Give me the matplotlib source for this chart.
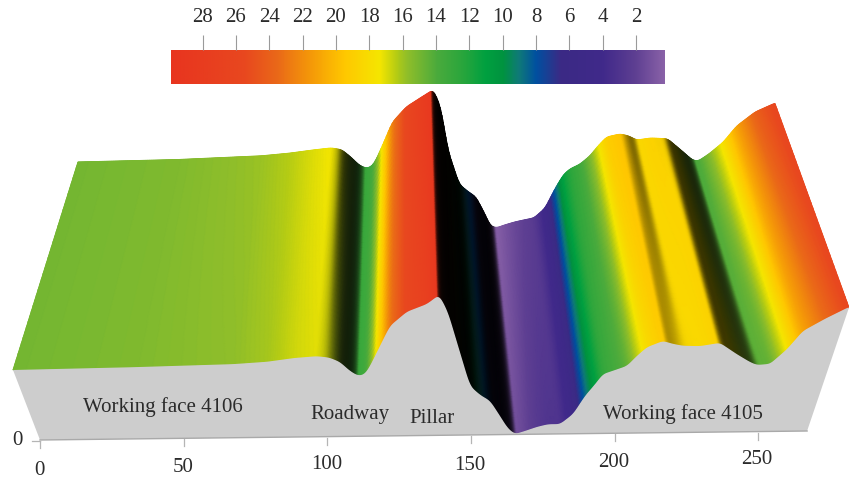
import numpy as np
import matplotlib
matplotlib.use("Agg")
import matplotlib.pyplot as plt
from matplotlib.colors import LinearSegmentedColormap, Normalize

# distance along the section and stress on the near / far edge of the block
distance = [0, 38.3, 70.3, 81.1, 90, 97, 101, 104.4, 107.6, 110.2,
            112.4, 114, 117.2, 120.4, 125.8, 132.2, 136.1, 138.9, 141.8, 146,
            149.2, 152.4, 155.5, 158, 160.3, 163.5, 167.4, 170.9, 174.7, 178.9,
            182.7, 185.9, 188.4, 192.3, 196.1, 199.3, 202.5, 207.6, 210.8, 214,
            219.4, 225.8, 231.2, 235.4, 237.6, 241.8, 247.2, 252.3, 259.4, 267]
stress_front = [15, 15.3, 15.7, 16.1, 16.8, 17.1, 16.8, 15.9, 14.1, 13.1,
                13.4, 15, 19, 23, 25.8, 27.3, 29.1, 25.7, 19.6, 10.8,
                9, 7.8, 4.8, 2.3, 1.1, 1.7, 2.5, 3, 3, 5,
                8.6, 10.9, 12.9, 13.7, 14.5, 16.5, 18.2, 19.4, 18.8, 18.4,
                18.3, 18.9, 16.6, 15, 14.4, 14.6, 17.5, 21.1, 23.5, 25.8]
stress_back = [15, 15.3, 15.9, 16.4, 17, 17.4, 17, 15.5, 13.8, 13.1,
               13.4, 14.6, 18.5, 22.6, 25.8, 28, 29.3, 25.7, 16.5, 9.6,
               8.1, 6.9, 3.7, 0.8, 0.4, 1, 1.6, 2, 2.4, 4.4,
               8.4, 11.3, 12.5, 13.5, 15.2, 17.3, 19.1, 19.7, 19.3, 18.4,
               18.8, 18.6, 16.1, 14.1, 13.9, 15.4, 17.8, 21.1, 24, 25.8]

# colour scale
cbar_stress = [0.3, 2, 4, 6.5, 8, 9, 10, 11, 12.5, 14, 15.7, 16.4, 17.4, 19.5, 21.5, 23.5, 25.5, 30]
cbar_colors = ["#8a62a8", "#5e3f92", "#40298a", "#3b2a85", "#0050a0", "#0f7a78", "#00933f",
               "#00a040", "#2ba63c", "#4cab3c", "#8fbe2a", "#b5cc14", "#f5e600", "#ffc800",
               "#f59a08", "#ea6a18", "#e8481f", "#e8341f"]
cbar_ticks = [28, 26, 24, 22, 20, 18, 16, 14, 12, 10, 8, 6, 4, 2]

x_ticks = [0, 50, 100, 150, 200, 250]
x_tick_label_y = [471, 468, 465, 466, 463, 460]
region_labels = ["Working face 4106", "Roadway", "Pillar", "Working face 4105"]

plt.rcParams["font.family"] = ["Liberation Serif", "DejaVu Serif"]
text_col = "#2b2b2b"
fs = 15

nodes = [(s - 0.3) / 29.7 for s in cbar_stress]
cmap = LinearSegmentedColormap.from_list("stress", list(zip(nodes, cbar_colors)), N=512)
norm = Normalize(0.3, 30)

fig = plt.figure(figsize=(8.49, 4.81), dpi=100)
ax = fig.add_axes([0, 0, 1, 1])
ax.set_xlim(0, 849)
ax.set_ylim(481, 0)
ax.axis("off")


# block projection, depth 0 = near edge, 1 = far edge
def project(d, depth, s):
    d = np.asarray(d, dtype=float)
    xf = 13 + d * 836 / 267
    xb = 78 + d * 697 / 267
    yf = 371 - 9 * d / 267 - 5.0 * (np.asarray(s) - 15)
    yb = 163 - 7 * d / 267 - 4.8 * (np.asarray(s) - 15)
    return xf + (xb - xf) * depth, yf + (yb - yf) * depth


def bottom(d):
    d = np.asarray(d, dtype=float)
    return 40 + d * 2.873, 441 - d * 9 / 267


def soften(a, n):
    k = np.ones(n) / n
    return np.convolve(np.pad(a, n // 2, mode="edge"), k, mode="valid")


# fine grid only for painting the surface
fine = np.linspace(0, 267, 1068)
sf = soften(soften(np.interp(fine, distance, stress_front), 9), 5)
sb = soften(soften(np.interp(fine, distance, stress_back), 9), 5)
depth = np.linspace(0, 1, 40)
D, V = np.meshgrid(fine, depth)
S = sf[None, :] * (1 - V) + sb[None, :] * V
X, Y = project(D, V, S)

slope_f = soften(np.gradient(sf, fine), 13)
slope_b = soften(np.gradient(sb, fine), 13)
slope = slope_f[None, :] * (1 - V) + slope_b[None, :] * V
falling = np.clip(-slope, 0, None)
shade = 1 / (1 + (falling / 0.24) ** 2)
rgb = cmap(norm(S))[:, :, :3] * shade[:, :, None]
ax.pcolormesh(X, Y, rgb, shading="gouraud", zorder=2)

# grey front wall under the near edge
xe, ye = project(fine, 0, sf)
bx, by = bottom(np.array([267, 0]))
ax.fill(np.r_[xe, bx], np.r_[ye, by], color="#cdcdcd", lw=0, zorder=3)
ax.plot(bx, by, color="#a9a9a9", lw=1, zorder=4)

# axis ticks and labels
for v, ly in zip(x_ticks, x_tick_label_y):
    tx, ty = bottom(v)
    ax.plot([tx, tx], [ty + 1, ty + 8], color="#b5b5b5", lw=0.9, zorder=4)
    ax.text(tx - 1, ly, str(v), ha="center", va="center", fontsize=fs, color=text_col, zorder=5)
ax.plot([32, 40], [442, 442], color="#b5b5b5", lw=0.9, zorder=4)
ax.text(17, 441, "0", ha="center", va="center", fontsize=fs, color=text_col, zorder=5)

ax.text(163, 407, region_labels[0], ha="center", va="center", fontsize=fs, color=text_col, zorder=5)
ax.text(350, 415, region_labels[1], ha="center", va="center", fontsize=fs, color=text_col, zorder=5)
ax.text(432, 419, region_labels[2], ha="center", va="center", fontsize=fs, color=text_col, zorder=5)
ax.text(683, 414, region_labels[3], ha="center", va="center", fontsize=fs, color=text_col, zorder=5)

# colour bar
cax = fig.add_axes([171 / 849, 1 - 85 / 481, 494 / 849, 34 / 481])
bar_vals = np.linspace(30, 0.3, 500)[None, :]
cax.imshow(bar_vals, cmap=cmap, norm=norm, aspect="auto", extent=(30, 0.3, 0, 1))
cax.set_xlim(29.9, 0.26)
cax.set_yticks([])
cax.set_xticks(cbar_ticks)
cax.xaxis.tick_top()
cax.tick_params(axis="x", length=11, width=0.8, color="#9a9a9a", pad=6, labelsize=fs, labelcolor=text_col)
for sp in cax.spines.values():
    sp.set_visible(False)

fig.savefig("out.png", dpi=100)
